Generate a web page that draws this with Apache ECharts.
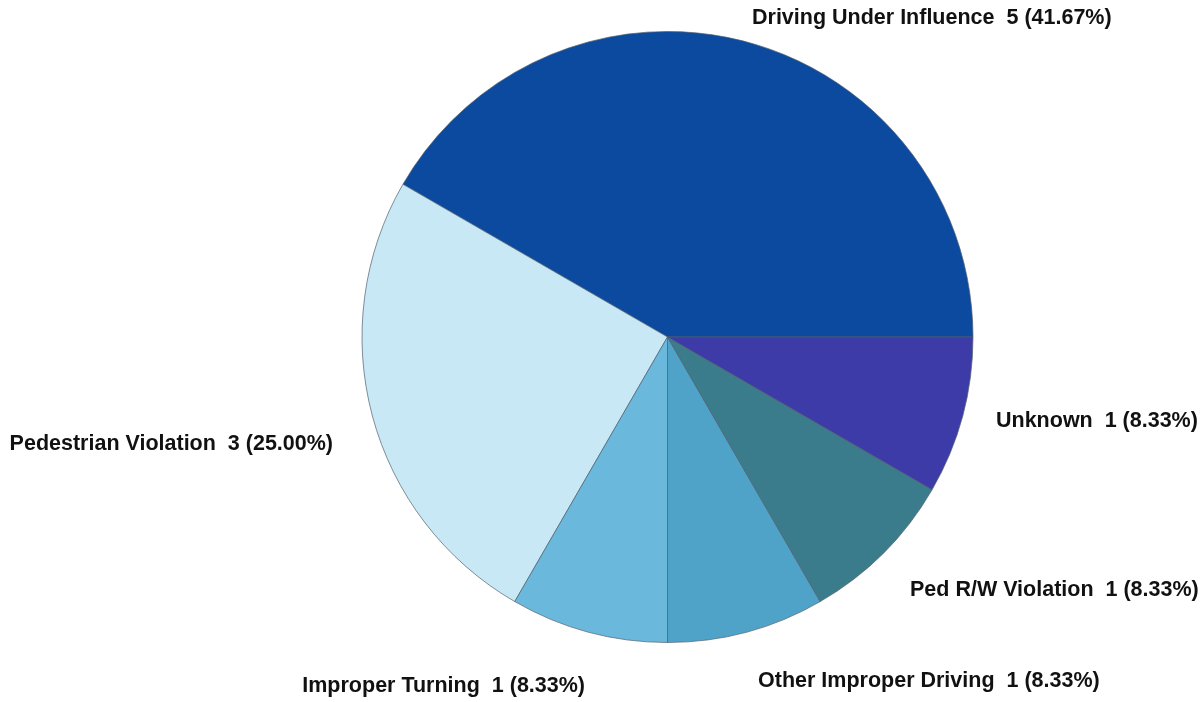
<!DOCTYPE html>
<html>
<head>
<meta charset="utf-8">
<script src="https://cdn.jsdelivr.net/npm/echarts@6/dist/echarts.min.js"></script>
<style>
html,body{margin:0;padding:0;background:#fff;}
#chart{width:1203px;height:702px;}
</style>
</head>
<body>
<div id="chart"></div>
<script>
// ---- data ----
const categories = ['Driving Under Influence', 'Pedestrian Violation', 'Improper Turning', 'Other Improper Driving', 'Ped R/W Violation', 'Unknown'];
const counts = [5, 3, 1, 1, 1, 1];

// ---- styling ----
const sliceColors = ['#0b4a9e', '#c8e8f6', '#6ab8dc', '#4fa3c9', '#3b7c8c', '#3d3ba8'];
// label anchors (by data index): [x, y, align]
const labelAnchors = [
  [752, 18, 'left'],
  [333, 444, 'right'],
  [585, 686, 'right'],
  [758, 681, 'left'],
  [910, 590, 'left'],
  [996, 421, 'left']
];
const total = counts.reduce((a, b) => a + b, 0);

const chart = echarts.init(document.getElementById('chart'), null, {renderer: 'canvas'});
const option = {
  backgroundColor: '#ffffff',
  animation: false,
  series: [{
    type: 'pie',
    center: [667.5, 337],
    radius: 305.5,
    startAngle: 0,
    clockwise: false,
    avoidLabelOverlap: false,
    data: categories.map((c, i) => ({
      name: c,
      value: counts[i],
      itemStyle: {color: sliceColors[i]}
    })),
    itemStyle: {borderColor: '#50606e', borderWidth: 0.7},
    label: {
      show: true,
      position: 'outside',
      color: '#111',
      fontFamily: 'Liberation Sans, Arial, sans-serif',
      fontWeight: 'bold',
      fontSize: 21.5,
      formatter: p => p.name + '  ' + p.value + ' (' + (p.value / total * 100).toFixed(2) + '%)'
    },
    labelLine: {show: false},
    labelLayout: function (params) {
      const a = labelAnchors[params.dataIndex];
      return {x: a[0], y: a[1], align: a[2], verticalAlign: 'middle'};
    },
    emphasis: {disabled: true}
  }]
};
chart.setOption(option);
</script>
</body>
</html>
